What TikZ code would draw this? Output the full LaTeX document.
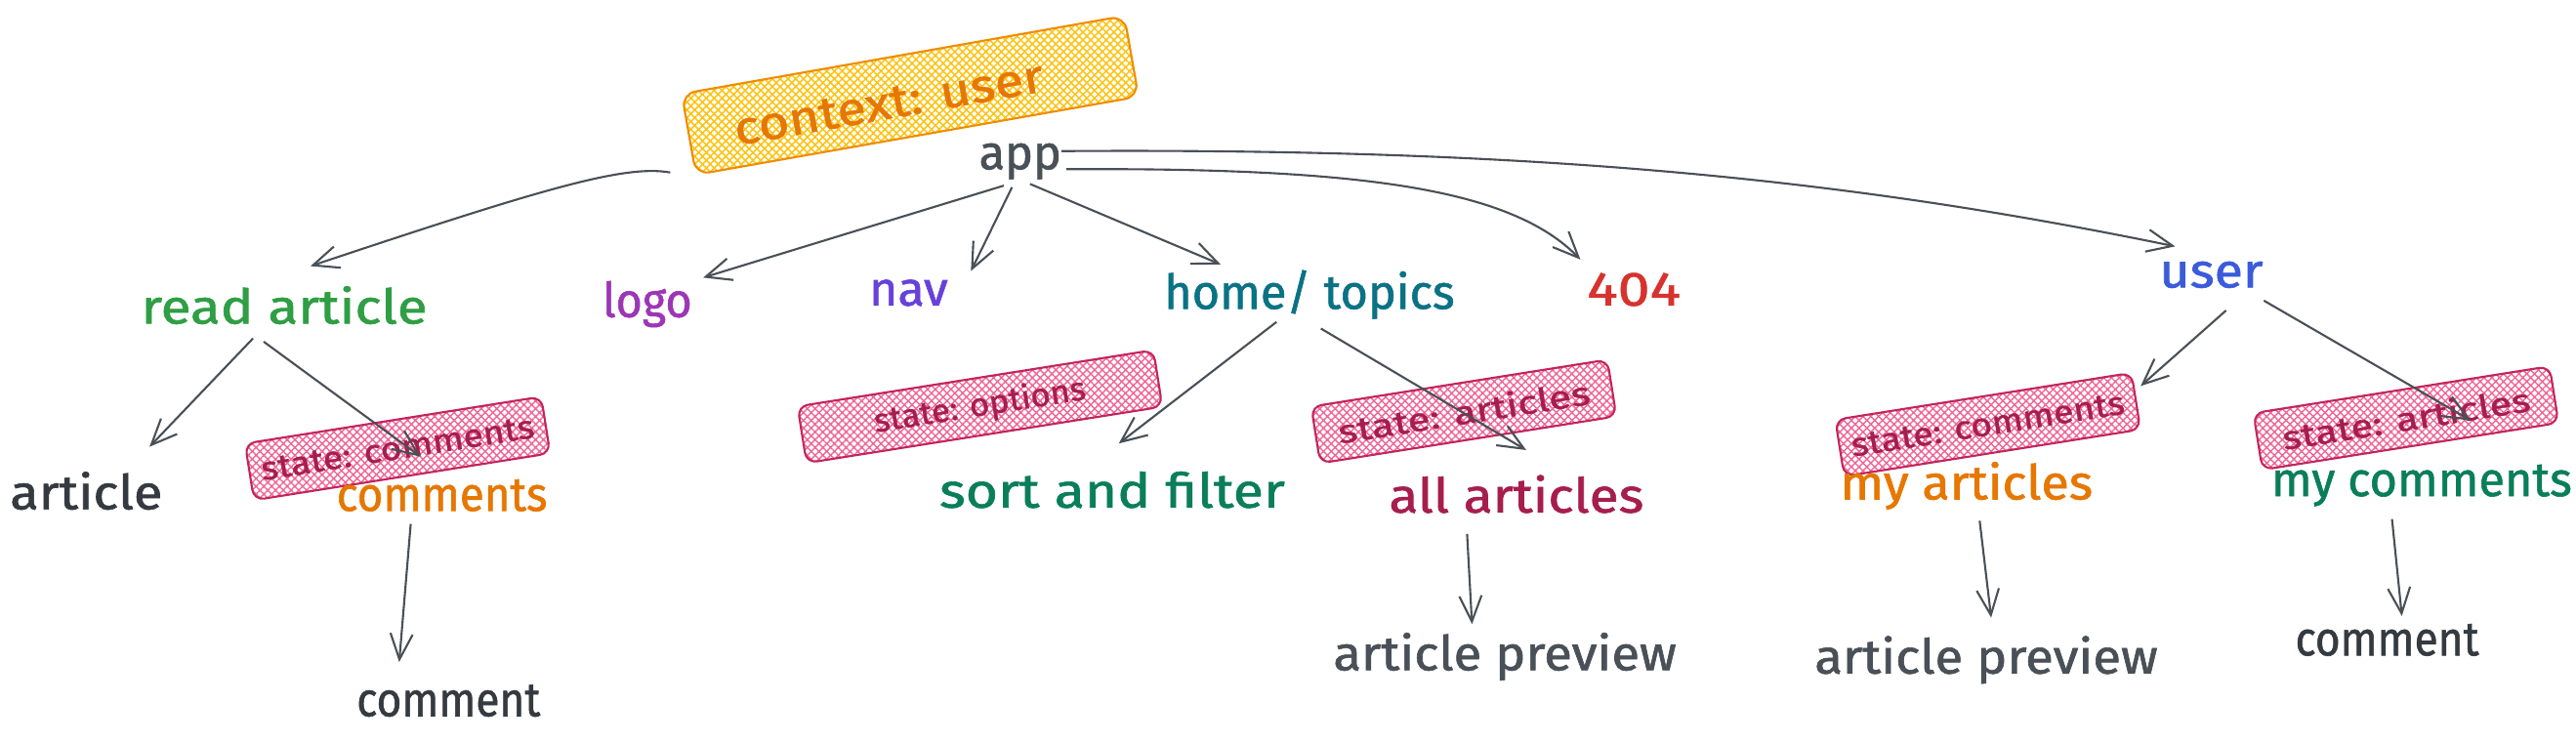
\documentclass[tikz,border=0pt]{standalone}
\usepackage{fontspec}
\usepackage{graphicx}
\newfontfamily\hand[FakeBold=1.2]{Fira Sans}
\newcommand\sx[2]{\scalebox{#1}[1]{#2}}
\usetikzlibrary{arrows.meta,patterns.meta,calc}
\definecolor{edgec}{HTML}{495057}
\definecolor{cgray}{HTML}{495057}
\definecolor{cdark}{HTML}{343A40}
\definecolor{cgreen}{HTML}{2F9E44}
\definecolor{cpurple}{HTML}{9C36B5}
\definecolor{cviolet}{HTML}{6741D9}
\definecolor{cteal}{HTML}{0B7285}
\definecolor{cred}{HTML}{D6332E}
\definecolor{cblue}{HTML}{3B5BDB}
\definecolor{corange}{HTML}{E67700}
\definecolor{cdgreen}{HTML}{0A7E5A}
\definecolor{ccrimson}{HTML}{A61E4D}
\definecolor{sdraw}{HTML}{C2255C}
\definecolor{sfill}{HTML}{F06595}
\definecolor{kdraw}{HTML}{F08C00}
\definecolor{kfill}{HTML}{FCC419}
\begin{document}
\begin{tikzpicture}[x=0.016824cm,y=-0.016824cm,
  lbl/.style={font=\hand\fontsize{14}{16}\selectfont, anchor=base, inner sep=0pt},
  arr/.style={draw=edgec, line width=0.6pt, -{Straight Barb[length=7.5pt,width=6.5pt]}},
  statebox/.style={draw=sdraw, line width=0.6pt, rounded corners=3pt,
    pattern={Hatch[distance=1.6pt,line width=0.4pt,angle=45]}, pattern color=sfill,
    minimum height=16.7pt, inner sep=0pt, rotate=9, text=ccrimson,
    font=\hand\fontsize{9.5}{11}\selectfont},
  ctxbox/.style={draw=kdraw, line width=0.6pt, rounded corners=4pt,
    pattern={Hatch[distance=1.6pt,line width=0.45pt,angle=45]}, pattern color=kfill,
    minimum width=131pt, minimum height=23.9pt, inner sep=0pt, rotate=10},
  ctxtext/.style={font=\hand\fontsize{13.5}{15}\selectfont, text=corange, rotate=10, inner sep=0pt}
]
\useasboundingbox (0,0) rectangle (1568,452);

% highlight boxes
\node[ctxbox] (ctx) at (554,58) {};
\node[ctxtext] (ctxlabel) at (541,63) {\sx{1.14}{context: user}};
\node[statebox, minimum width=87.4pt] (s1) at (242,273) {\sx{1.12}{state: comments}};
\node[statebox, minimum width=105pt] (s2) at (596.5,247.5) {\sx{1.04}{state: options}};
\node[statebox, minimum width=87.4pt] (s3) at (891,250.5) {\sx{1.26}{state: articles}};
\node[statebox, minimum width=87.4pt] (s4) at (1210,258.5) {\sx{1.12}{state: comments}};
\node[statebox, minimum width=87.4pt] (s5) at (1464.5,254.5) {\sx{1.24}{state: articles}};

% labels
\node[lbl, text=cgray] (app) at (621,103) {\sx{0.99}{app}};
\node[lbl, text=cgreen] (read) at (173,197) {\sx{1.15}{read article}};
\node[lbl, text=cpurple] (logo) at (394,193) {\sx{0.95}{logo}};
\node[lbl, text=cviolet] (nav) at (553,186) {\sx{1.02}{nav}};
\node[lbl, text=cteal] (home) at (797,188) {\sx{0.99}{home/ topics}};
\node[lbl, text=cred] (e404) at (994.5,186) {\sx{1.2}{404}};
\node[lbl, text=cblue] (user) at (1346,175) {\sx{1.09}{user}};
\node[lbl, text=cdark] (article) at (52.5,310) {\sx{1.1}{article}};
\node[lbl, text=corange] (comments) at (269,311) {\sx{0.93}{comments}};
\node[lbl, text=cdark] (commentL) at (273,436) {\sx{0.9}{comment}};
\node[lbl, text=cdgreen] (sort) at (677,309) {\sx{1.16}{sort and filter}};
\node[lbl, text=ccrimson] (allart) at (923,312) {\sx{1.12}{all articles}};
\node[lbl, text=cgray] (prevM) at (916,408) {\sx{1.07}{article preview}};
\node[lbl, text=cgray] (prevR) at (1209,410) {\sx{1.07}{article preview}};
\node[lbl, text=cdark] (commentR) at (1453,399) {\sx{0.9}{comment}};
\node[lbl, text=corange] (myart) at (1197,304) {\sx{1.06}{my articles}};
\node[lbl, text=cdgreen] (mycom) at (1474,302) {\sx{0.99}{my comments}};

% connectors
\draw[arr] ($(app.base)+(-213,2)$) .. controls +(-28,-5) and +(141,-47) .. ($(read.base)+(16,-35)$);
\draw[arr] ($(app.base)+(-10,10)$) -- ($(logo.base)+(34,-24)$);
\draw[arr] ($(app.base)+(-5,11)$) -- ($(nav.base)+(38,-21)$);
\draw[arr] ($(app.base)+(6,9)$) -- ($(home.base)+(-54,-27)$);
\draw[arr] ($(app.base)+(28,0)$) .. controls +(181,-1) and +(-42,-43) .. ($(e404.base)+(-32.5,-28)$);
\draw[arr] ($(app.base)+(25,-11)$) .. controls +(284,-2) and +(-204,-42) .. ($(user.base)+(-22,-25)$);
\draw[arr] ($(read.base)+(-19,9)$) -- ($(article.base)+(38.5,-38)$);
\draw[arr] ($(read.base)+(-12.5,11)$) -- ($(comments.base)+(-13,-33)$);
\draw[arr] ($(comments.base)+(-19,8)$) -- ($(commentL.base)+(-30,-33)$);
\draw[arr] ($(home.base)+(-20,8)$) -- ($(sort.base)+(4,-39)$);
\draw[arr] ($(home.base)+(7,12)$) -- ($(allart.base)+(6,-38)$);
\draw[arr] ($(allart.base)+(-30,13)$) -- ($(prevM.base)+(-20,-28)$);
\draw[arr] ($(myart.base)+(8,13)$) -- ($(prevR.base)+(3,-34)$);
\draw[arr] ($(mycom.base)+(-18,14)$) -- ($(commentR.base)+(9,-24)$);
\draw[arr] ($(user.base)+(9,14)$) -- ($(myart.base)+(106,-69)$);
\draw[arr] ($(user.base)+(32,8)$) -- ($(mycom.base)+(30,-46)$);
\end{tikzpicture}
\end{document}
